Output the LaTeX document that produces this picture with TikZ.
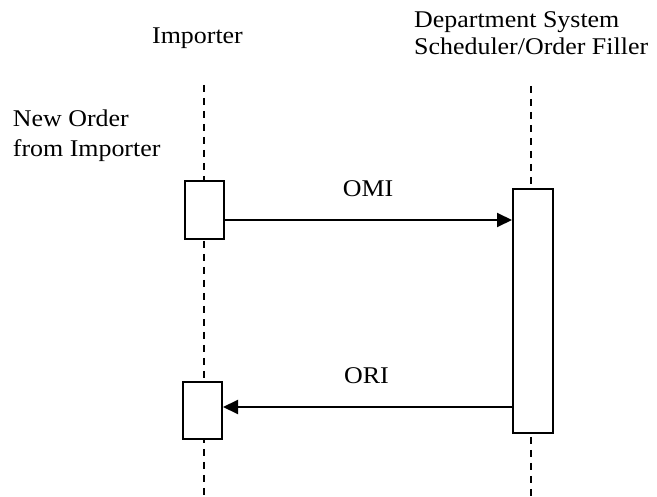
\documentclass[tikz,border=0pt]{standalone}
\usepackage{fontspec}
\setmainfont{Liberation Serif}
\usetikzlibrary{arrows.meta}
\newcommand{\Tx}[1]{\scalebox{1.08}[1]{#1}}
\begin{document}
\begin{tikzpicture}[x=1pt,y=-1pt,
  lbl/.style={inner sep=0pt,font=\fontsize{24}{28}\selectfont},
  life/.style={line width=2pt,dash pattern=on 7pt off 6pt},
  act/.style={draw,fill=white,line width=2pt,inner sep=0pt},
  msg/.style={line width=2pt,-{Triangle[length=15pt,width=14pt]}}]
\useasboundingbox (0,0) rectangle (657,497);
% lifelines
\coordinate (LT) at (204,85);
\coordinate (LB) at (204,497);
\coordinate (RT) at (531,86);
\coordinate (RB) at (531,497);
\draw[life] (LT) -- (LB);
\draw[life] (RT) -- (RB);
% activation boxes
\node[act,minimum width=39pt,minimum height=58pt] (a1) at (204.5,210.5) {};
\node[act,minimum width=39pt,minimum height=57pt] (a2) at (202.5,410.8) {};
\node[act,minimum width=40pt,minimum height=244pt] (b1) at (533,311) {};
% messages
\draw[msg] (a1.east |- 0,220) -- (b1.west |- 0,220);
\draw[msg] (b1.west |- 0,407) -- (a2.east |- 0,407);
% labels
\node[lbl,anchor=base] (imp) at (197.5,44) {\Tx{Importer}};
\node[lbl,anchor=base west] (dep1) at (414,27.3) {\Tx{Department System}};
\node[lbl,anchor=base west] (dep2) at (414,55) {\Tx{Scheduler/Order Filler}};
\node[lbl,anchor=base west] (no1) at (12.7,126.7) {\Tx{New Order}};
\node[lbl,anchor=base west] (no2) at (12.7,157) {\Tx{from Importer}};
\node[lbl,anchor=base] (omi) at (368,197) {\Tx{OMI}};
\node[lbl,anchor=base] (ori) at (366.5,384) {\Tx{ORI}};
\end{tikzpicture}
\end{document}
